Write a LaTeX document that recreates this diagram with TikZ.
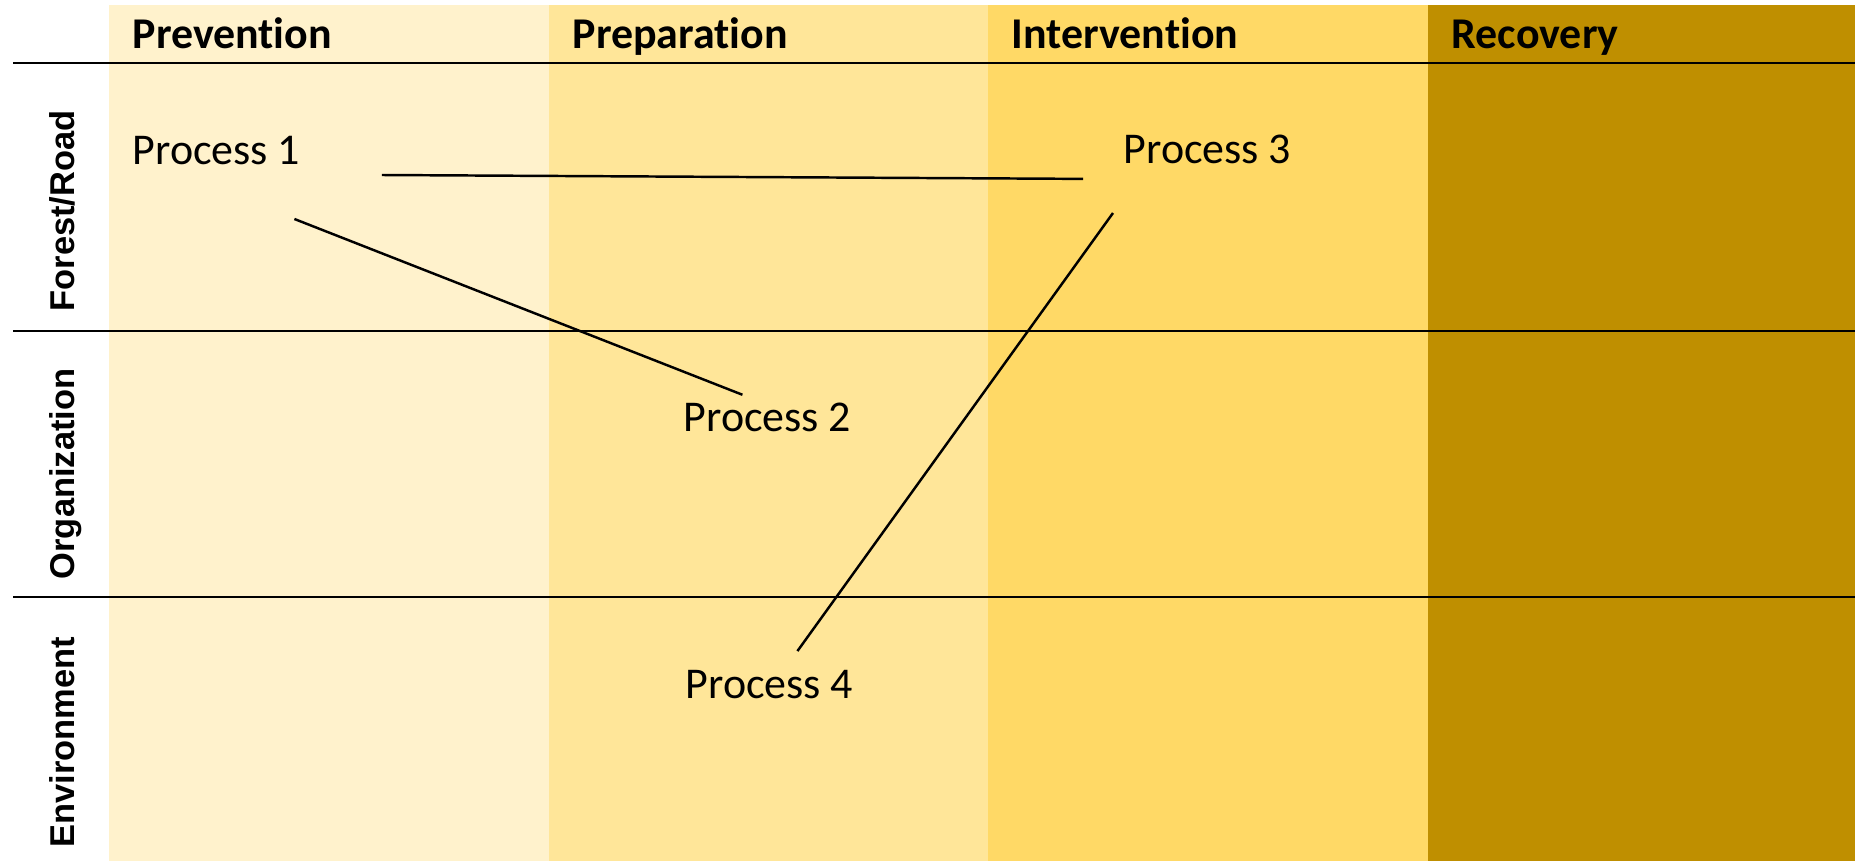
\documentclass[tikz,border=0pt]{standalone}
\usepackage{fontspec}
\setmainfont{Carlito}[Ligatures=NoCommon]
\newfontfamily\lanefont{Liberation Sans}
\usetikzlibrary{positioning}

\definecolor{prevfill}{HTML}{FFF2CC}
\definecolor{prepfill}{HTML}{FFE699}
\definecolor{intfill}{HTML}{FFD966}
\definecolor{recfill}{HTML}{BF8F00}

\begin{document}
\begin{tikzpicture}[
        phasehead/.style={
            anchor=base west, inner sep=0pt, font=\fontsize{12.5}{15}\selectfont\bfseries
        },
        lane/.style={
            anchor=base, rotate=90, inner sep=0pt, font=\lanefont\fontsize{9.8}{12}\selectfont\bfseries
        },
        process/.style={
            anchor=base west, inner sep=0pt, font=\fontsize{12.5}{15}\selectfont
        },
        rule/.style={line width=0.8pt},
        link/.style={line width=0.7pt}
    ]
        \useasboundingbox (0,0) rectangle (18.55,8.61);

        % Phase columns
        \fill[prevfill] (1.09,0) rectangle (5.49,8.56);
        \fill[prepfill] (5.49,0) rectangle (9.88,8.56);
        \fill[intfill] (9.88,0) rectangle (14.28,8.56);
        \fill[recfill] (14.28,0) rectangle (18.55,8.56);

        % Lane rules
        \draw[rule] (0.13,7.98) -- (18.55,7.98);
        \draw[rule] (0.13,5.30) -- (18.55,5.30);
        \draw[rule] (0.13,2.64) -- (18.55,2.64);

        % Headers
        \node[phasehead] (prev) at (1.32,8.12) {Prevention};
        \node[phasehead] (prep) at (5.72,8.12) {Preparation};
        \node[phasehead] (inter) at (10.11,8.12) {Intervention};
        \node[phasehead] (recov) at (14.51,8.12) {Recovery};

        % Lanes
        \node[lane] (forest) at (0.74,6.50) {Forest/Road};
        \node[lane] (orga) at (0.74,3.87) {Organization};
        \node[lane] (envir) at (0.74,1.19) {Environment};

        % Processes
        \node[process] (p1) at (1.32,6.96) {Process 1};
        \node[process] (p2) at (6.83,4.29) {Process 2};
        \node[process] (p3) at (11.23,6.97) {Process 3};
        \node[process] (p4) at (6.85,1.62) {Process 4};

        % Link ends
        \coordinate[below right=0.24cm and 0.81cm of p1.east] (p1r);
        \coordinate[below right=0.53cm and 0.78cm of p1.south] (p1b);
        \coordinate[above left=0.08cm and 0.25cm of p2.north] (p2t);
        \coordinate[below left=0.29cm and 0.40cm of p3.west] (p3l);
        \coordinate[below left=0.48cm and 0.10cm of p3.south west] (p3b);
        \coordinate[above right=0.19cm and 0.28cm of p4.north] (p4t);

        % Links
        \draw[link] (p1r) -- (p3l);
        \draw[link] (p1b) -- (p2t);
        \draw[link] (p3b) -- (p4t);

    \end{tikzpicture}
\end{document}
